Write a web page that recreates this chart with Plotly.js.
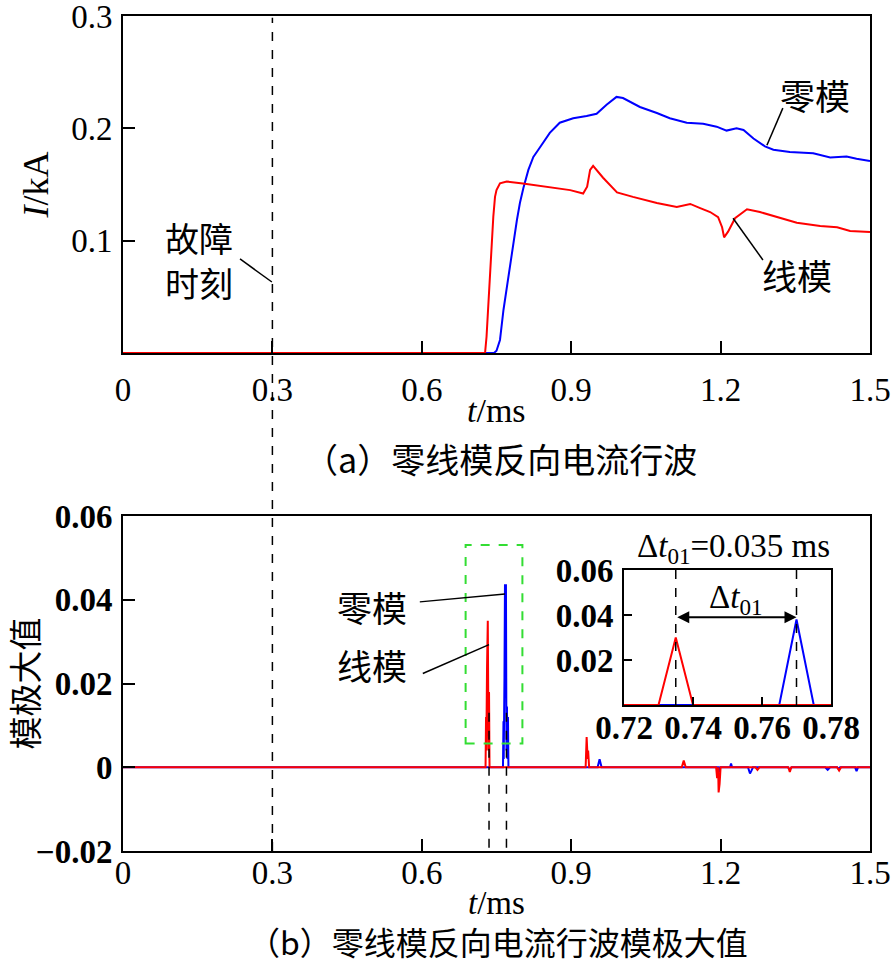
<!DOCTYPE html>
<html>
<head>
<meta charset="utf-8">
<script src="https://cdn.plot.ly/plotly-3.0.1.min.js"></script>
<style>html,body{margin:0;padding:0;background:#fff}#chart{width:892px;height:964px}</style>
</head>
<body>
<div id="chart"></div>
<script>
// (a) reverse current travelling waves
const topRedT = [0, 0.727, 0.730, 0.7335, 0.737, 0.740, 0.7436, 0.747, 0.750, 0.757, 0.7705, 0.803, 0.851, 0.898, 0.924, 0.932, 0.938, 0.944, 0.964, 0.992, 1.024, 1.072, 1.112, 1.139, 1.159, 1.179, 1.195, 1.203, 1.207, 1.215, 1.229, 1.253, 1.279, 1.313, 1.353, 1.400, 1.434, 1.460, 1.500];
const topRedI = [0, 0, 0.0145, 0.0412, 0.0679, 0.098, 0.1213, 0.139, 0.145, 0.151, 0.1527, 0.151, 0.148, 0.145, 0.142, 0.148, 0.163, 0.1665, 0.156, 0.143, 0.139, 0.1335, 0.130, 0.1327, 0.129, 0.1255, 0.121, 0.112, 0.103, 0.108, 0.120, 0.128, 0.1255, 0.121, 0.116, 0.113, 0.112, 0.1086, 0.1077];
const topBlueT = [0, 0.745, 0.750, 0.757, 0.764, 0.770, 0.777, 0.784, 0.791, 0.797, 0.804, 0.814, 0.824, 0.834, 0.857, 0.877, 0.904, 0.931, 0.951, 0.971, 0.991, 1.004, 1.038, 1.072, 1.098, 1.132, 1.165, 1.192, 1.212, 1.232, 1.246, 1.266, 1.289, 1.306, 1.339, 1.386, 1.420, 1.453, 1.473, 1.500];
const topBlueI = [0, 0, 0.002, 0.0116, 0.0383, 0.056, 0.080, 0.1006, 0.1184, 0.1335, 0.1469, 0.163, 0.1745, 0.181, 0.196, 0.205, 0.209, 0.211, 0.213, 0.221, 0.228, 0.227, 0.219, 0.2137, 0.209, 0.205, 0.204, 0.2015, 0.198, 0.200, 0.1985, 0.191, 0.184, 0.181, 0.179, 0.1778, 0.174, 0.175, 0.173, 0.171];

// (b) modulus maxima
const botRedT = [0, 0.728, 0.729, 0.7295, 0.731, 0.7325, 0.734, 0.735, 0.736, 0.929, 0.931, 0.933, 0.934, 0.936, 1.122, 1.126, 1.130, 1.191, 1.193, 1.195, 1.196, 1.198, 1.200, 1.270, 1.274, 1.278, 1.336, 1.339, 1.342, 1.434, 1.438, 1.442, 1.5];
const botRedV = [0, 0, 0.012, 0.004, 0.024, 0.035, 0.004, 0.018, 0, 0, 0.0072, 0.002, 0.004, 0, 0, 0.0016, 0, 0, -0.0026, 0, -0.006, -0.004, 0, 0, -0.0006, 0, 0, -0.0011, 0, 0, -0.0008, 0, 0];
const botBlueT = [0, 0.763, 0.764, 0.7645, 0.766, 0.767, 0.769, 0.770, 0.771, 0.772, 0.773, 0.774, 0.953, 0.957, 0.961, 1.195, 1.197, 1.199, 1.219, 1.221, 1.223, 1.255, 1.259, 1.262, 1.265, 1.335, 1.339, 1.343, 1.410, 1.415, 1.420, 1.434, 1.437, 1.440, 1.470, 1.473, 1.476, 1.5];
const botBlueV = [0, 0, 0.011, 0.002, 0.0215, 0.0435, 0.0435, 0.004, 0.0145, 0.002, 0.012, 0, 0, 0.0019, 0, 0, -0.0012, 0, 0, 0.0009, 0, 0, -0.0015, -0.0008, 0, 0, -0.0005, 0, 0, -0.0006, 0, 0, -0.0004, 0, 0, -0.0009, 0, 0];

// inset (zoom of the first arrivals)
const insetT = [0.72, 0.73, 0.735, 0.74, 0.765, 0.77, 0.775, 0.78];
const insetRed = [0, 0, 0.03, 0, 0, 0, 0, 0];
const insetBlue = [0, 0, 0, 0, 0, 0.038, 0, 0];

const xTicks = [0, 0.3, 0.6, 0.9, 1.2, 1.5];
const xTickText = ['0', '0.3', '0.6', '0.9', '1.2', '1.5'];
const yTopTicks = [0.1, 0.2, 0.3];
const yTopText = ['0.1', '0.2', '0.3'];
const yBotTicks = [-0.02, 0, 0.02, 0.04, 0.06];
const yBotText = ['\u22120.02', '0', '0.02', '0.04', '0.06'];
const inXTicks = [0.72, 0.74, 0.76, 0.78];
const inXText = ['0.72', '0.74', '0.76', '0.78'];
const inYTicks = [0.02, 0.04, 0.06];
const inYText = ['0.02', '0.04', '0.06'];

const faultTime = 0.3;
const zeroArrival = 0.77, lineArrival = 0.735;

const RED = '#ff0000', BLUE = '#0000ff';
const FONT = 'Liberation Serif, "Times New Roman", "Noto Sans CJK SC", serif';
const CJK = '"Noto Sans CJK SC", sans-serif';

const traces = [
  {x: topBlueT, y: topBlueI, xaxis: 'x', yaxis: 'y', mode: 'lines', line: {color: BLUE, width: 2}},
  {x: topRedT, y: topRedI, xaxis: 'x', yaxis: 'y', mode: 'lines', line: {color: RED, width: 2}},
  {x: botBlueT, y: botBlueV, xaxis: 'x2', yaxis: 'y2', mode: 'lines', line: {color: BLUE, width: 2}},
  {x: botRedT, y: botRedV, xaxis: 'x2', yaxis: 'y2', mode: 'lines', line: {color: RED, width: 2}},
  {x: insetT, y: insetBlue, xaxis: 'x3', yaxis: 'y3', mode: 'lines', line: {color: BLUE, width: 2}},
  {x: insetT, y: insetRed, xaxis: 'x3', yaxis: 'y3', mode: 'lines', line: {color: RED, width: 2}}
];

const axBase = {
  showline: true, linecolor: '#000', linewidth: 2, mirror: true,
  ticks: 'inside', ticklen: 12, tickwidth: 2, tickcolor: '#000',
  showgrid: false, zeroline: false, ticklabeloverflow: 'allow',
  tickfont: {family: FONT, size: 33, color: '#000'}
};
const boldTick = {family: FONT, size: 33, color: '#000', weight: 'bold'};

const layout = {
  width: 892, height: 964,
  margin: {l: 123, r: 22, t: 16, b: 113},
  paper_bgcolor: '#fff', plot_bgcolor: 'rgba(0,0,0,0)',
  showlegend: false,
  font: {family: FONT, size: 33, color: '#000'},
  xaxis: Object.assign({}, axBase, {domain: [0, 1], anchor: 'y', range: [0, 1.5],
    tickvals: xTicks, ticktext: xTickText, ticklabelstandoff: 6}),
  yaxis: Object.assign({}, axBase, {domain: [0.5964, 1], anchor: 'x', range: [0, 0.30001],
    tickvals: yTopTicks, ticktext: yTopText, ticklabelstandoff: 2,
    title: {text: '<i>I</i>/kA', font: {family: FONT, size: 36}, standoff: 12}}),
  xaxis2: Object.assign({}, axBase, {domain: [0, 1], anchor: 'y2', range: [0, 1.5],
    tickvals: xTicks, ticktext: xTickText, ticklabelstandoff: -9}),
  yaxis2: Object.assign({}, axBase, {domain: [0, 0.4012], anchor: 'x2', range: [-0.02, 0.06001],
    tickvals: yBotTicks, ticktext: yBotText, ticklabelstandoff: 2, tickfont: boldTick,
    title: {text: '模极大值', font: {family: CJK, size: 33}, standoff: 0}}),
  xaxis3: Object.assign({}, axBase, {domain: [0.6707, 0.9478], anchor: 'y3', range: [0.72, 0.78],
    tickvals: inXTicks, ticktext: inXText, ticklen: 8, ticklabelstandoff: -8, tickfont: boldTick}),
  yaxis3: Object.assign({}, axBase, {domain: [0.1749, 0.3365], anchor: 'x3', range: [0, 0.06001],
    tickvals: inYTicks, ticktext: inYText, ticklen: 8, ticklabelstandoff: 2, tickfont: boldTick}),
  shapes: [
    {type: 'line', xref: 'x', yref: 'paper', x0: faultTime, x1: faultTime, y0: 0, y1: 0.998,
     line: {color: '#000', width: 1.5, dash: 'dash'}},
    {type: 'line', xref: 'x2', yref: 'y2', x0: lineArrival, x1: lineArrival, y0: 0.013, y1: -0.02,
     line: {color: '#000', width: 1.5, dash: 'dash'}},
    {type: 'line', xref: 'x2', yref: 'y2', x0: zeroArrival, x1: zeroArrival, y0: 0.013, y1: -0.02,
     line: {color: '#000', width: 1.5, dash: 'dash'}},
    {type: 'rect', xref: 'x2', yref: 'y2', x0: 0.688, x1: 0.802, y0: 0.0057, y1: 0.0531,
     line: {color: '#33dd33', width: 2, dash: 'dash'}},
    {type: 'line', xref: 'x3', yref: 'y3', x0: lineArrival, x1: lineArrival, y0: 0, y1: 0.06,
     line: {color: '#000', width: 1.5, dash: 'dash'}},
    {type: 'line', xref: 'x3', yref: 'y3', x0: zeroArrival, x1: zeroArrival, y0: 0, y1: 0.06,
     line: {color: '#000', width: 1.5, dash: 'dash'}},
    {type: 'line', xref: 'x', yref: 'y', x0: 1.325, y0: 0.218, x1: 1.293, y1: 0.185, line: {color: '#000', width: 1.5}},
    {type: 'line', xref: 'x', yref: 'y', x0: 1.225, y0: 0.120, x1: 1.285, y1: 0.0828, line: {color: '#000', width: 1.5}},
    {type: 'line', xref: 'x', yref: 'y', x0: 0.235, y0: 0.0837, x1: 0.299, y1: 0.0632, line: {color: '#000', width: 1.5}},
    {type: 'line', xref: 'x2', yref: 'y2', x0: 0.596, y0: 0.0395, x1: 0.767, y1: 0.0414, line: {color: '#000', width: 1.5}},
    {type: 'line', xref: 'x2', yref: 'y2', x0: 0.602, y0: 0.0224, x1: 0.735, y1: 0.0293, line: {color: '#000', width: 1.5}}
  ],
  annotations: [
    {xref: 'x', yref: 'y', x: 1.390, y: 0.2297, text: '零模', showarrow: false, font: {family: CJK, size: 35}},
    {xref: 'x', yref: 'y', x: 1.353, y: 0.0695, text: '线模', showarrow: false, font: {family: CJK, size: 35}},
    {xref: 'x', yref: 'y', x: 0.153, y: 0.1024, text: '故障', showarrow: false, font: {family: CJK, size: 34}},
    {xref: 'x', yref: 'y', x: 0.153, y: 0.0632, text: '时刻', showarrow: false, font: {family: CJK, size: 34}},
    {xref: 'x2', yref: 'y2', x: 0.5, y: 0.0385, text: '零模', showarrow: false, font: {family: CJK, size: 35}},
    {xref: 'x2', yref: 'y2', x: 0.5, y: 0.0245, text: '线模', showarrow: false, font: {family: CJK, size: 35}},
    {xref: 'paper', yref: 'paper', x: 0.5, y: (851 - 410) / 835, yanchor: 'middle', text: '<i>t</i>/ms', showarrow: false,
     font: {family: FONT, size: 34}},
    {xref: 'paper', yref: 'paper', x: 0.5, y: (851 - 903) / 835, yanchor: 'middle', text: '<i>t</i>/ms', showarrow: false,
     font: {family: FONT, size: 33}},
    {xref: 'paper', yref: 'paper', x: 0.505, y: (851 - 458) / 835, yanchor: 'middle', text: '（a）零线模反向电流行波', showarrow: false,
     font: {family: CJK, size: 34}},
    {xref: 'paper', yref: 'paper', x: 0.502, y: (851 - 941) / 835, yanchor: 'middle', text: '（b）零线模反向电流行波模极大值', showarrow: false,
     font: {family: CJK, size: 32}},
    {xref: 'x3', yref: 'paper', x: 0.7517, y: (851 - 548) / 835, yanchor: 'middle', text: 'Δ<i>t</i><sub>01</sub>=0.035 ms', showarrow: false,
     font: {family: FONT, size: 33}},
    {xref: 'x3', yref: 'y3', x: 0.7525, y: 0.047, yanchor: 'middle', text: 'Δ<i>t</i><sub>01</sub>', showarrow: false,
     font: {family: FONT, size: 33}},
    {xref: 'x3', yref: 'y3', x: zeroArrival, y: 0.039, axref: 'x3', ayref: 'y3', ax: lineArrival, ay: 0.039,
     text: '', showarrow: true, arrowhead: 2, startarrowhead: 2, arrowside: 'end+start', arrowsize: 1.2, arrowwidth: 2, arrowcolor: '#000',
     standoff: 0, startstandoff: 0}
  ]
};

Plotly.newPlot('chart', traces, layout, {staticPlot: true, displayModeBar: false});
</script>
</body>
</html>
